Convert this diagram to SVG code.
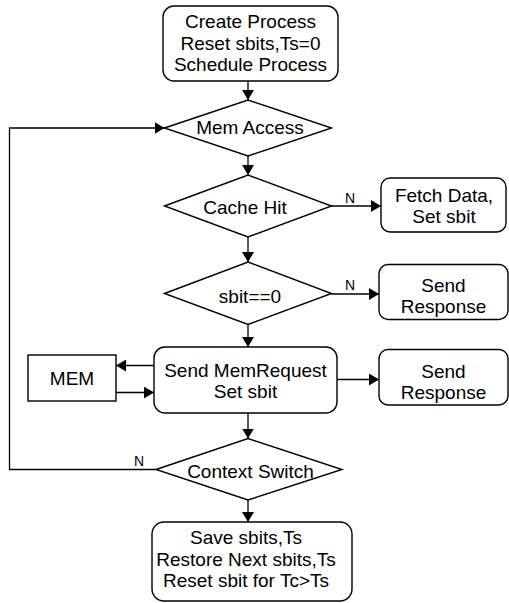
<svg xmlns="http://www.w3.org/2000/svg" width="509" height="603" viewBox="0 0 509 603">
<style>
.box{fill:#fff;stroke:#000;stroke-width:1.4}
.t{font-family:"Liberation Sans",Arial,sans-serif;font-size:19px;fill:#000;text-anchor:middle}
.lbl{font-family:"Liberation Sans",Arial,sans-serif;font-size:14px;fill:#000;text-anchor:middle}
.c{fill:none;stroke:#000;stroke-width:1.3}
</style>
<defs>
<marker id="ah" markerUnits="userSpaceOnUse" markerWidth="11" markerHeight="12" refX="10" refY="6" orient="auto">
<path d="M0,0 L10,6 L0,12 z" fill="#000"/>
</marker>
</defs>
<rect width="509" height="603" fill="#fff"/>
<g id="connectors">
<line class="c" x1="248" y1="81" x2="248" y2="100" marker-end="url(#ah)"/>
<line class="c" x1="248" y1="156" x2="248" y2="175" marker-end="url(#ah)"/>
<line class="c" x1="331.5" y1="206" x2="381" y2="206" marker-end="url(#ah)"/>
<text class="lbl" x="350" y="203">N</text>
<line class="c" x1="248" y1="237" x2="248" y2="262" marker-end="url(#ah)"/>
<line class="c" x1="331.5" y1="294" x2="379" y2="294" marker-end="url(#ah)"/>
<text class="lbl" x="350" y="289.5">N</text>
<line class="c" x1="248" y1="324.5" x2="248" y2="347" marker-end="url(#ah)"/>
<line class="c" x1="154" y1="365.5" x2="116" y2="365.5" marker-end="url(#ah)"/>
<line class="c" x1="116" y1="392.5" x2="154" y2="392.5" marker-end="url(#ah)"/>
<line class="c" x1="337" y1="379.5" x2="379" y2="379.5" marker-end="url(#ah)"/>
<line class="c" x1="248" y1="413" x2="248" y2="438.5" marker-end="url(#ah)"/>
<polyline class="c" points="156,469.5 9.5,469.5 9.5,128 164.5,128" marker-end="url(#ah)"/>
<text class="lbl" x="139" y="465.5">N</text>
<line class="c" x1="248" y1="500" x2="248" y2="522" marker-end="url(#ah)"/>
</g>
<g id="create">
<rect class="box" x="163" y="6" width="175" height="75" rx="11"/>
<text class="t" x="250.5" y="28">Create Process</text>
<text class="t" x="250.5" y="49.5">Reset sbits,Ts=0</text>
<text class="t" x="250.5" y="70.5">Schedule Process</text>
</g>
<g id="memaccess">
<polygon class="box" points="164.5,128 248,100 331.5,128 248,156"/>
<text class="t" x="250" y="134">Mem Access</text>
</g>
<g id="cachehit">
<polygon class="box" points="164.5,206 248,175 331.5,206 248,237"/>
<text class="t" x="245" y="214">Cache Hit</text>
</g>
<g id="fetch">
<rect class="box" x="381" y="178" width="125" height="54" rx="9"/>
<text class="t" x="444" y="202">Fetch Data,</text>
<text class="t" x="444" y="223">Set sbit</text>
</g>
<g id="sbit">
<polygon class="box" points="164.5,293.5 248,262 331.5,293.5 248,324.5"/>
<text class="t" x="250" y="302.5">sbit==0</text>
</g>
<g id="resp1">
<rect class="box" x="379" y="264.5" width="129" height="55" rx="9"/>
<text class="t" x="443.5" y="292">Send</text>
<text class="t" x="443.5" y="313">Response</text>
</g>
<g id="sendmem">
<rect class="box" x="154" y="347" width="183" height="66" rx="11"/>
<text class="t" x="245.5" y="376.5">Send MemRequest</text>
<text class="t" x="245.5" y="398">Set sbit</text>
</g>
<g id="mem">
<rect class="box" x="28" y="355" width="88" height="46"/>
<text class="t" x="72" y="385">MEM</text>
</g>
<g id="resp2">
<rect class="box" x="379" y="349.5" width="129" height="55.5" rx="9"/>
<text class="t" x="443.5" y="377.5">Send</text>
<text class="t" x="443.5" y="398.5">Response</text>
</g>
<g id="context">
<polygon class="box" points="156,469.5 248,438.5 342,469.5 248,500"/>
<text class="t" x="250.5" y="478">Context Switch</text>
</g>
<g id="save">
<rect class="box" x="152" y="522" width="200" height="79" rx="12"/>
<text class="t" x="246" y="544">Save sbits,Ts</text>
<text class="t" x="246" y="565.5">Restore Next sbits,Ts</text>
<text class="t" x="246" y="586.5">Reset sbit for Tc&gt;Ts</text>
</g>
</svg>
